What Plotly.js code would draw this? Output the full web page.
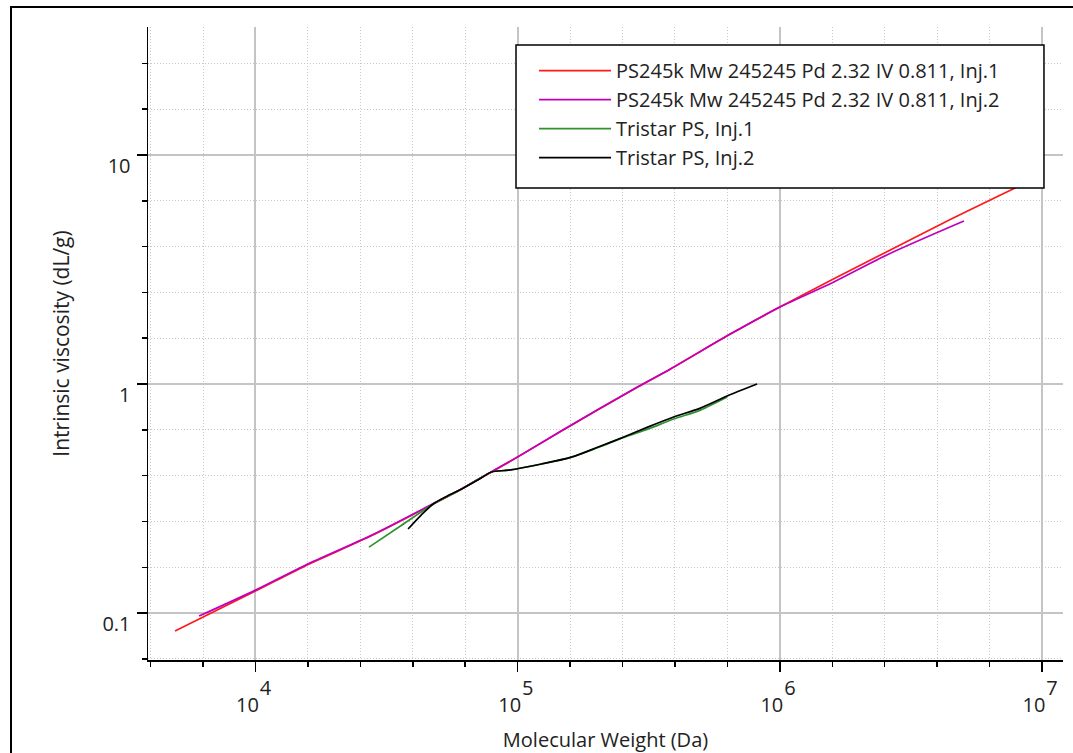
<!DOCTYPE html>
<html><head><meta charset="utf-8">
<script src="https://cdn.plot.ly/plotly-3.0.1.min.js"></script>
<style>
html,body{margin:0;padding:0;background:#fff;overflow:hidden;}
#chart{width:1073px;height:753px;position:absolute;left:0;top:0;}
#frame{position:absolute;left:10px;top:6px;width:1200px;height:900px;border-left:2px solid #000;border-top:2px solid #000;pointer-events:none;}
</style></head><body>
<div id="chart"></div><div id="frame"></div>
<script>
// ---- data ----
const seriesNames = [
  'PS245k Mw 245245 Pd 2.32 IV 0.811, Inj.1',
  'PS245k Mw 245245 Pd 2.32 IV 0.811, Inj.2',
  'Tristar PS, Inj.1',
  'Tristar PS, Inj.2'
];
const seriesColors = ['#ff1a1a', '#c000c0', '#2f922f', '#000000'];

const ps1MW = [4932, 10000, 15420, 28050, 47640, 60950, 79430, 100000, 146900, 287100, 382800, 647100, 1000000, 1607000, 2582000, 4150000, 8035000];
const ps1IV = [0.0834, 0.1247, 0.1603, 0.2190, 0.2992, 0.3475, 0.4130, 0.4797, 0.6237, 0.9705, 1.164, 1.652, 2.168, 2.884, 3.802, 5.012, 7.244];

const ps2MW = [6095, 10000, 15420, 28050, 47640, 60950, 79430, 100000, 146900, 287100, 382800, 647100, 1000000, 1607000, 2582000, 5035000];
const ps2IV = [0.0970, 0.1259, 0.1614, 0.2203, 0.3006, 0.3483, 0.4140, 0.4808, 0.6252, 0.9727, 1.164, 1.652, 2.168, 2.790, 3.680, 5.152];

const tri1MW = [27100, 35970, 47640, 53950, 60950, 70960, 79430, 92470, 123300, 160300, 202800, 254100, 313300, 393600, 497700, 629500];
const tri1IV = [0.1941, 0.2410, 0.2992, 0.3228, 0.3475, 0.3846, 0.4130, 0.4207, 0.4477, 0.4797, 0.5284, 0.5848, 0.6353, 0.7031, 0.7691, 0.8770];

const tri2MW = [38190, 42850, 47640, 53950, 60950, 70960, 79430, 92470, 123300, 160300, 202800, 254100, 313300, 393600, 497700, 629500, 818500];
const tri2IV = [0.2328, 0.2679, 0.2992, 0.3243, 0.3475, 0.3828, 0.4130, 0.4207, 0.4477, 0.4797, 0.5309, 0.5875, 0.6486, 0.7178, 0.7852, 0.8872, 1.0];

const xTickVals = [1e4, 1e5, 1e6, 1e7];
const xTickBase = ['10', '10', '10', '10'];
const xTickExp = ['4', '5', '6', '7'];
const yTickVals = [0.1, 1, 10];
const yTickText = ['0.1', '1', '10'];

const xTitle = 'Molecular Weight (Da)';
const yTitle = 'Intrinsic viscosity (dL/g)';

// ---- chart ----
const FONT = '"Open Sans", "Noto Sans", sans-serif';
const TXT = '#222222';
const xs = [ps1MW, ps2MW, tri1MW, tri2MW];
const ys = [ps1IV, ps2IV, tri1IV, tri2IV];
const traces = xs.map((x, i) => ({
  type: 'scatter', mode: 'lines', x: x, y: ys[i], name: seriesNames[i],
  line: {color: seriesColors[i], width: 1.7, shape: 'spline', smoothing: 0.8},
  xaxis: 'x', yaxis: 'y'
}));
// empty helper trace so the exponent-label axis is drawn
traces.push({type: 'scatter', mode: 'lines', x: [], y: [], xaxis: 'x2', yaxis: 'y',
  showlegend: false, hoverinfo: 'skip'});

const xRange = [3.590, 7.080];
const yRange = [-1.205, 1.559];
const DOTS = '1px,2px';

const layout = {
  width: 1073, height: 753,
  margin: {l: 148, r: 10, t: 27, b: 93},
  paper_bgcolor: '#ffffff', plot_bgcolor: '#ffffff',
  font: {family: FONT, size: 20, color: TXT},
  showlegend: true,
  legend: {
    x: 0.4219, y: 0.962, xanchor: 'left', yanchor: 'top',
    bgcolor: 'rgba(0,0,0,0)', borderwidth: 0,
    font: {family: FONT, size: 20, color: TXT},
    itemwidth: 72, tracegroupgap: 0
  },
  xaxis: {
    type: 'log', range: xRange, autorange: false,
    tickmode: 'array', tickvals: xTickVals, ticktext: xTickBase,
    ticks: 'outside', ticklen: 10, tickwidth: 1.5, tickcolor: '#000',
    ticklabelshift: -8, ticklabelstandoff: 16,
    showline: true, linecolor: '#000', linewidth: 1.5, mirror: false,
    showgrid: true, gridcolor: '#c4c4c4', gridwidth: 2, zeroline: false,
    minor: {dtick: 0.2, ticks: 'outside', ticklen: 5, tickwidth: 1.5, tickcolor: '#000',
            showgrid: true, gridcolor: '#c8c8c8', gridwidth: 1, griddash: DOTS},
    title: {text: xTitle, font: {family: FONT, size: 20, color: TXT}, standoff: 17}
  },
  xaxis2: {
    type: 'log', range: xRange, autorange: false, overlaying: 'x', anchor: 'y', side: 'bottom',
    tickmode: 'array', tickvals: xTickVals, ticktext: xTickExp,
    ticks: '', showline: false, showgrid: false, zeroline: false,
    ticklabelshift: 10, ticklabelstandoff: 14,
    tickfont: {family: FONT, size: 20, color: TXT}
  },
  yaxis: {
    type: 'log', range: yRange, autorange: false,
    tickmode: 'array', tickvals: yTickVals, ticktext: yTickText,
    ticks: 'outside', ticklen: 10, tickwidth: 1.5, tickcolor: '#000',
    ticklabelshift: 11, ticklabelstandoff: 2,
    showline: true, linecolor: '#000', linewidth: 1.5, mirror: false,
    showgrid: true, gridcolor: '#c4c4c4', gridwidth: 2, zeroline: false,
    minor: {dtick: 0.2, ticks: 'outside', ticklen: 5, tickwidth: 1.5, tickcolor: '#000',
            showgrid: true, gridcolor: '#c8c8c8', gridwidth: 1, griddash: DOTS},
    title: {text: yTitle, font: {family: FONT, size: 21, color: TXT}, standoff: 27}
  },
  shapes: [{
    type: 'rect', xref: 'paper', yref: 'paper', layer: 'above',
    x0: 0.4022, x1: 0.9792, y0: 0.7457, y1: 0.9716,
    line: {color: '#000', width: 1.5}, fillcolor: '#ffffff'
  }]
};

Plotly.newPlot('chart', traces, layout, {staticPlot: true, displayModeBar: false});
</script>
</body></html>
